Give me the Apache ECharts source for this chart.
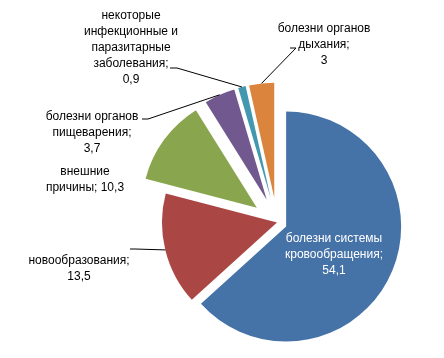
<!DOCTYPE html>
<html><head><meta charset="utf-8">
<script src="https://cdn.jsdelivr.net/npm/echarts@6/dist/echarts.min.js"></script>
<style>html,body{margin:0;padding:0;background:#fff}#c{width:444px;height:358px}</style>
</head><body><div id="c"></div>
<script>
// ---- data ----
const categories = [
  'болезни системы кровообращения',
  'новообразования',
  'внешние причины',
  'болезни органов пищеварения',
  'некоторые инфекционные и паразитарные заболевания',
  'болезни органов дыхания'
];
const values = [54.1, 13.5, 10.3, 3.7, 0.9, 3];
// label text as wrapped in the picture
const labelNames = [
  'болезни системы\nкровообращения;',
  'новообразования;',
  'внешние\nпричины;',
  'болезни органов\nпищеварения;',
  'некоторые\nинфекционные и\nпаразитарные\nзаболевания;',
  'болезни органов\nдыхания;'
];
const valueSeparators = ['\n', '\n', ' ', '\n', '\n', '\n'];

// ---- style / layout ----
const colors = ['#4572A7', '#AA4643', '#89A54E', '#71588F', '#4198AF', '#DB843D'];
const pieCenter = [277, 222.5];
const pieRadius = 115;
// explosion groups: members, selected members, offset
const groups = [
  { members: [0, 1], selected: [0], offset: 10 },
  { members: [2, 3, 4, 5], selected: [2, 3, 4, 5], offset: 25 }
];
const sliceOffset = [10, 0, 25, 25, 25, 25];
const labelPos = [[334, 255], [79, 269], [85, 180], [92, 133], [131, 48], [324, 45]];
const labelKnees = [null, [[135, 249], [130, 249]], null, [[148, 119], [142, 119]], [[177, 68], [170, 68]], [[296, 48], [290, 48]]];

const fmt = (i, v) => labelNames[i] + valueSeparators[i] + String(v).replace('.', ',');

const chart = echarts.init(document.getElementById('c'), null, { renderer: 'canvas' });

const base = {
  type: 'pie',
  center: pieCenter,
  radius: pieRadius,
  startAngle: 90,
  clockwise: true,
  avoidLabelOverlap: false,
  silent: true,
  emphasis: { disabled: true },
  itemStyle: { borderWidth: 0 }
};

const sliceSeries = groups.map(g => Object.assign({}, base, {
  selectedMode: 'multiple',
  selectedOffset: g.offset,
  select: { itemStyle: { borderWidth: 0 } },
  label: { show: false },
  labelLine: { show: false },
  data: values.map((v, i) => ({
    name: categories[i],
    value: v,
    selected: g.selected.indexOf(i) >= 0,
    itemStyle: { color: g.members.indexOf(i) >= 0 ? colors[i] : 'rgba(0,0,0,0)' }
  }))
}));

const labelSeries = Object.assign({}, base, {
  z: 5,
  label: {
    show: true,
    position: 'outside',
    fontFamily: 'Liberation Sans',
    fontSize: 12,
    lineHeight: 16,
    color: '#000',
    align: 'center',
    formatter: p => fmt(p.dataIndex, p.value)
  },
  labelLine: { show: true, length: 10, length2: 10, lineStyle: { color: '#000', width: 1 } },
  labelLayout: function (p) {
    const i = p.dataIndex;
    const pos = labelPos[i];
    const out = { x: pos[0], y: pos[1], align: 'center', verticalAlign: 'middle' };
    if (labelKnees[i] && p.labelLinePoints) {
      const p0 = p.labelLinePoints[0];
      const dx = p0[0] - pieCenter[0], dy = p0[1] - pieCenter[1];
      const len = Math.sqrt(dx * dx + dy * dy) || 1;
      const start = [p0[0] + sliceOffset[i] * dx / len, p0[1] + sliceOffset[i] * dy / len];
      out.labelLinePoints = [start].concat(labelKnees[i]);
    }
    return out;
  },
  data: values.map((v, i) => {
    const item = { name: categories[i], value: v, itemStyle: { color: 'rgba(0,0,0,0)' } };
    if (i === 0) {
      item.label = { position: 'inside', color: '#fff' };
      item.labelLine = { show: false };
    } else if (i === 2) {
      item.labelLine = { show: false };
    }
    return item;
  })
});

chart.setOption({ animation: false, backgroundColor: '#fff', series: sliceSeries.concat([labelSeries]) });
</script>
</body></html>
